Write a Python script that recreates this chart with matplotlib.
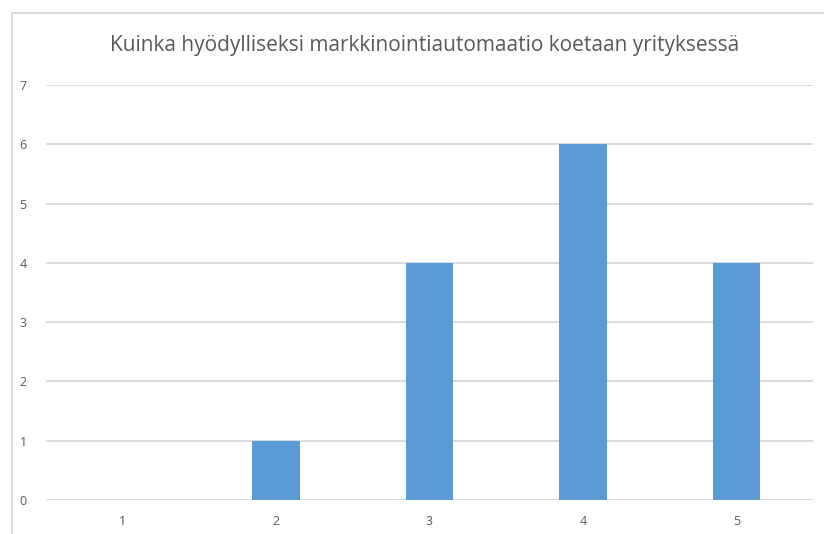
import matplotlib
matplotlib.use('Agg')
import matplotlib.pyplot as plt
from matplotlib.patches import Rectangle

categories = ['1', '2', '3', '4', '5']
values = [0, 1, 4, 6, 4]
title = 'Kuinka hyödylliseksi markkinointiautomaatio koetaan yrityksessä'

text_color = '#595959'
grid_color = '#D9D9D9'
bar_color = '#5B9BD5'

plt.rcParams['font.family'] = ['Open Sans', 'DejaVu Sans']

fig = plt.figure(figsize=(8.24, 5.34), dpi=100)
ax = fig.add_axes([46/824, 34/534, 767/824, 415/534])

x = range(len(categories))
ax.bar(x, values, width=0.31, color=bar_color, zorder=3)

ax.set_xlim(-0.5, len(categories) - 0.5)
ax.set_ylim(0, 7)
ax.set_yticks(range(0, 8))
ax.set_xticks(list(x))
ax.set_xticklabels(categories)
ax.yaxis.grid(True, color=grid_color, linewidth=1.3, zorder=0)
ax.tick_params(axis='both', length=0, labelsize=9, colors=text_color)
ax.tick_params(axis='y', pad=14)
ax.tick_params(axis='x', pad=11)
for s in ax.spines.values():
    s.set_visible(False)

fig.text(425/824, 1 - 45/534, title, ha='center', va='center',
         fontsize=15, color=text_color)

# outer chart frame (cut off at right and bottom)
fig.patches.append(Rectangle((12/824, -0.1), 1.1, 1 - 13/534 + 0.1,
                             transform=fig.transFigure, fill=False,
                             edgecolor=grid_color, linewidth=1.3))

fig.savefig('out.png', dpi=100)
